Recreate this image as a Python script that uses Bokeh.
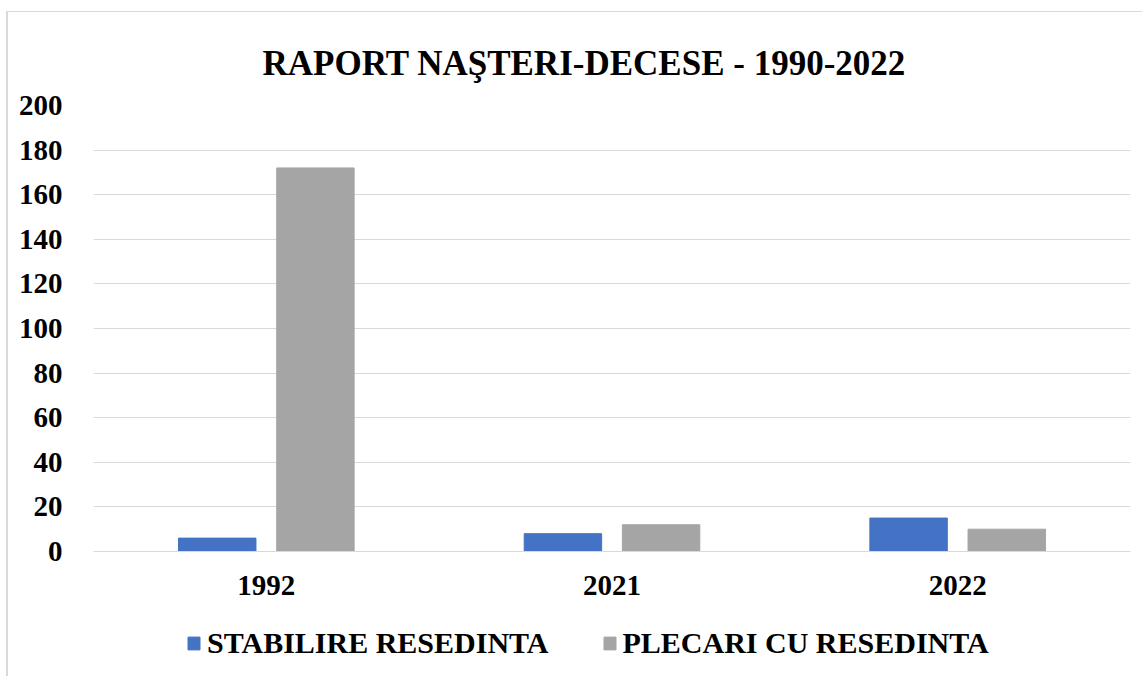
from bokeh.plotting import figure
from bokeh.layouts import column
from bokeh.models import ColumnDataSource, Legend, LegendItem, FactorRange, SingleIntervalTicker
from bokeh.transform import dodge
from bokeh.embed import file_html
from bokeh.resources import INLINE

years = ["1992", "2021", "2022"]
stabilire = [6, 8, 15]
plecari = [172, 12, 10]
series_names = ["STABILIRE RESEDINTA", "PLECARI CU RESEDINTA"]
colors = ["#4472C4", "#A5A5A5"]
title_text = "RAPORT NAŞTERI-DECESE - 1990-2022"

FONT = "Liberation Serif"

src = ColumnDataSource(dict(year=years, stabilire=stabilire, plecari=plecari))

p = figure(frame_width=1037, frame_height=446, x_range=FactorRange(*years), y_range=(0, 200),
           output_backend="svg", toolbar_location=None,
           min_border_left=85, min_border_right=12, min_border_top=93, min_border_bottom=60)
p.outline_line_color = None

p.title.text = title_text
p.title.align = "left"
p.title.text_font = FONT
p.title.text_font_style = "bold"
p.title.text_font_size = "35px"
p.title.text_color = "#000000"
p.title.offset = 169
p.title.standoff = 45

r1 = p.vbar(x=dodge("year", -0.142, range=p.x_range), top="stabilire", width=0.224,
            source=src, fill_color=colors[0], line_color=colors[0])
r2 = p.vbar(x=dodge("year", 0.142, range=p.x_range), top="plecari", width=0.224,
            source=src, fill_color=colors[1], line_color=colors[1])

p.yaxis.ticker = SingleIntervalTicker(interval=20)
p.yaxis.axis_line_color = None
p.yaxis.major_tick_line_color = None
p.yaxis.minor_tick_line_color = None
p.yaxis.major_label_text_font = FONT
p.yaxis.major_label_text_font_style = "bold"
p.yaxis.major_label_text_font_size = "29px"
p.yaxis.major_label_text_color = "#000000"
p.yaxis.major_label_standoff = 25

p.xaxis.axis_line_color = "#d9d9d9"
p.xaxis.major_tick_line_color = None
p.xaxis.minor_tick_line_color = None
p.xaxis.major_label_text_font = FONT
p.xaxis.major_label_text_font_style = "bold"
p.xaxis.major_label_text_font_size = "29px"
p.xaxis.major_label_text_color = "#000000"
p.xaxis.major_label_standoff = 18

p.xgrid.grid_line_color = None
p.ygrid.grid_line_color = "#d9d9d9"
p.ygrid.grid_line_width = 1

# legend strip: same series drawn out of view, only their legend is shown
q = figure(width=1134, height=66, x_range=FactorRange(*years), y_range=(1000, 1001),
           output_backend="svg", toolbar_location=None,
           min_border_left=0, min_border_right=0, min_border_top=0, min_border_bottom=0)
q.outline_line_color = None
q.axis.visible = False
q.grid.grid_line_color = None
l1 = q.vbar(x=dodge("year", -0.142, range=q.x_range), top="stabilire", width=0.224,
            source=src, fill_color=colors[0], line_color=colors[0])
l2 = q.vbar(x=dodge("year", 0.142, range=q.x_range), top="plecari", width=0.224,
            source=src, fill_color=colors[1], line_color=colors[1])

legend = Legend(items=[LegendItem(label=series_names[0], renderers=[l1]),
                       LegendItem(label=series_names[1], renderers=[l2])],
                orientation="horizontal", location=(93, 17))
legend.border_line_color = None
legend.background_fill_alpha = 0
legend.label_text_font = FONT
legend.label_text_font_style = "bold"
legend.label_text_font_size = "30px"
legend.label_text_color = "#000000"
legend.glyph_width = 15
legend.glyph_height = 16
legend.label_standoff = 6
legend.spacing = 53
legend.margin = 0
legend.padding = 0
q.add_layout(legend, "center")

layout = column(p, q, spacing=0)
layout.margin = (11, 0, 0, 6)
layout.styles = {"border-top": "1px solid #d9d9d9", "border-left": "2px solid #d9d9d9"}

open("out.html", "w").write(file_html(layout, INLINE))
